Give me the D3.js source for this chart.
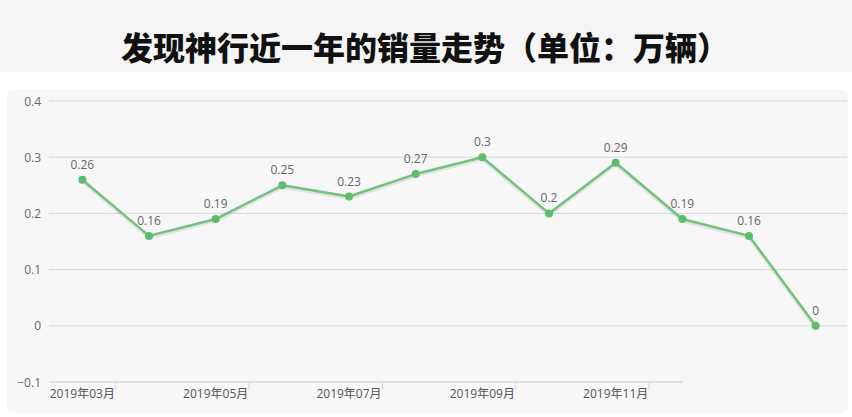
<!DOCTYPE html>
<html>
<head>
<meta charset="utf-8">
<script src="https://cdnjs.cloudflare.com/ajax/libs/d3/7.8.5/d3.min.js"></script>
<style>
    body { margin: 0; background: #fff; }
    svg { display: block; }
</style>
</head>
<body>
<script>
var width = 852,
    height = 417;

// monthly sales, 10k units
var months = ["2019年03月", "2019年04月", "2019年05月", "2019年06月", "2019年07月", "2019年08月",
    "2019年09月", "2019年10月", "2019年11月", "2019年12月", "2020年01月", "2020年02月"];
var sales = [0.26, 0.16, 0.19, 0.25, 0.23, 0.27, 0.3, 0.2, 0.29, 0.19, 0.16, 0];
var yTicks = [-0.1, 0, 0.1, 0.2, 0.3, 0.4];
var title = "发现神行近一年的销量走势（单位：万辆）";

var margin = { top: 101, right: 5, bottom: 35, left: 49 };

var svg = d3.select("body").append("svg")
    .attr("width", width)
    .attr("height", height);

// header band and chart panel
svg.append("rect")
    .attr("width", width)
    .attr("height", 72)
    .style("fill", "#f5f5f5");

svg.append("rect")
    .attr("x", 7)
    .attr("y", 90)
    .attr("width", 841)
    .attr("height", 323)
    .attr("rx", 6)
    .style("fill", "#f7f7f7");

svg.append("text")
    .attr("x", width / 2 - 1)
    .attr("y", 46)
    .attr("text-anchor", "middle")
    .attr("dominant-baseline", "central")
    .style("font-family", "'Noto Sans CJK SC', sans-serif")
    .style("font-weight", 900)
    .style("font-size", "32px")
    .style("fill", "#111")
    .text(title);

var x = d3.scaleBand()
    .domain(months)
    .range([margin.left, width - 3]);

var y = d3.scaleLinear()
    .domain([-0.1, 0.4])
    .range([height - margin.bottom, margin.top]);

// gridlines
svg.append("g")
    .selectAll("line")
    .data(yTicks.slice(1))
    .enter().append("line")
    .attr("x1", margin.left)
    .attr("x2", 847)
    .attr("y1", function(d) { return y(d); })
    .attr("y2", function(d) { return y(d); })
    .style("stroke", "#d8d8d8")
    .style("stroke-width", 1);

// y labels
svg.append("g")
    .selectAll("text")
    .data(yTicks)
    .enter().append("text")
    .attr("x", 41)
    .attr("y", function(d) { return y(d); })
    .attr("text-anchor", "end")
    .attr("dominant-baseline", "central")
    .style("font-family", "'Open Sans', sans-serif")
    .style("font-size", "12px")
    .style("fill", "#666")
    .text(function(d) { return d3.format("")(+d.toFixed(1)); });

// x axis line (image is cut off on the right)
svg.append("line")
    .attr("x1", margin.left)
    .attr("x2", 683)
    .attr("y1", y(-0.1))
    .attr("y2", y(-0.1))
    .style("stroke", "#d3d9e4")
    .style("stroke-width", 1.5);

var labeled = months.filter(function(d, i) { return i % 2 === 0 && i < 10; });

svg.append("g")
    .selectAll("line")
    .data(labeled)
    .enter().append("line")
    .attr("x1", function(d) { return x(d) + x.bandwidth(); })
    .attr("x2", function(d) { return x(d) + x.bandwidth(); })
    .attr("y1", y(-0.1))
    .attr("y2", y(-0.1) + 8)
    .style("stroke", "#d3d9e4")
    .style("stroke-width", 1);

svg.append("g")
    .selectAll("text")
    .data(labeled)
    .enter().append("text")
    .attr("x", function(d) { return x(d) + x.bandwidth() / 2; })
    .attr("y", y(-0.1) + 11)
    .attr("text-anchor", "middle")
    .attr("dominant-baseline", "central")
    .style("font-family", "'Open Sans', 'Noto Sans CJK SC', sans-serif")
    .style("font-size", "12px")
    .style("fill", "#555")
    .text(function(d) { return d; });

var cx = function(d, i) { return x(months[i]) + x.bandwidth() / 2; };

var line = d3.line()
    .x(cx)
    .y(function(d) { return y(d); });

// soft shadow under the line
svg.append("path")
    .datum(sales)
    .attr("d", line)
    .attr("transform", "translate(0,2)")
    .style("fill", "none")
    .style("stroke", "#000")
    .style("stroke-opacity", 0.08)
    .style("stroke-width", 3);

svg.append("path")
    .datum(sales)
    .attr("d", line)
    .style("fill", "none")
    .style("stroke", "#73c17f")
    .style("stroke-width", 2.5)
    .style("stroke-linejoin", "round");

svg.selectAll("circle")
    .data(sales)
    .enter().append("circle")
    .attr("cx", cx)
    .attr("cy", function(d) { return y(d); })
    .attr("r", 4)
    .style("fill", "#5dbd6c");

svg.append("g")
    .selectAll("text")
    .data(sales)
    .enter().append("text")
    .attr("x", cx)
    .attr("y", function(d) { return y(d) - 11; })
    .attr("text-anchor", "middle")
    .style("font-family", "'Open Sans', sans-serif")
    .style("font-size", "12px")
    .style("fill", "#666")
    .text(function(d) { return d; });
</script>
</body>
</html>
